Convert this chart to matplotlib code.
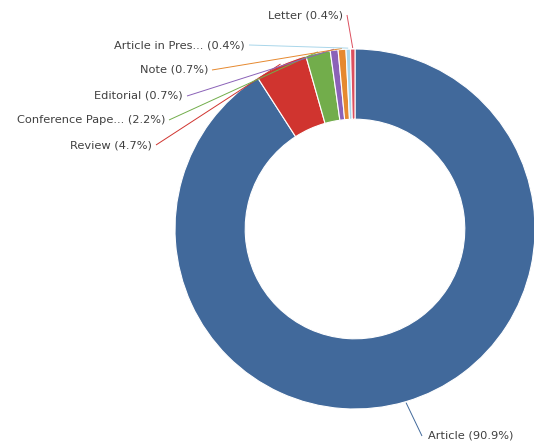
import matplotlib
matplotlib.use("Agg")
import matplotlib.pyplot as plt
import numpy as np

W, H = 534, 441

# data
doc_types = ["Article", "Review", "Conference Pape...", "Editorial", "Note",
             "Article in Pres...", "Letter"]
shares = [90.9, 4.7, 2.2, 0.7, 0.7, 0.4, 0.4]
colors = ["#41699b", "#d0342f", "#72ad4b", "#8b62b8", "#e6892f", "#a9d6ea", "#dc4f5e"]

# layout (pixels from top-left): label anchor x, y and alignment
label_pos = [(428, 436, "left"), (152, 145, "right"), (165, 120, "right"),
             (183, 96, "right"), (208, 70, "right"), (245, 45, "right"),
             (343, 15, "right")]
cx, cy, R = 355, 229, 180


def py(y):
    return H - y


fig = plt.figure(figsize=(W / 100, H / 100), dpi=100)
ax = fig.add_axes([0, 0, 1, 1])

wedges, _ = ax.pie(shares, colors=colors, startangle=90, counterclock=False,
                   center=(cx, py(cy)), radius=R,
                   wedgeprops=dict(width=R * 0.39, edgecolor="white", linewidth=0.8))

for w, name, val, (lx, ly, ha), col in zip(wedges, doc_types, shares, label_pos, colors):
    mid = np.deg2rad((w.theta1 + w.theta2) / 2)
    ex = cx + (R + 1) * np.cos(mid)
    ey = py(cy) + (R + 1) * np.sin(mid)
    if ha == "right":
        sx = lx + 4
    else:
        sx = lx - 6
    ax.plot([sx, ex], [py(ly), ey], color=col, lw=0.7, solid_capstyle="butt")
    ax.text(lx, py(ly), "%s (%.1f%%)" % (name, val), ha=ha, va="center",
            fontsize=8.2, color="#404040")

ax.set_xlim(0, W)
ax.set_ylim(0, H)
ax.set_aspect("auto")
ax.axis("off")

fig.savefig("out.png", dpi=100, facecolor="white")
